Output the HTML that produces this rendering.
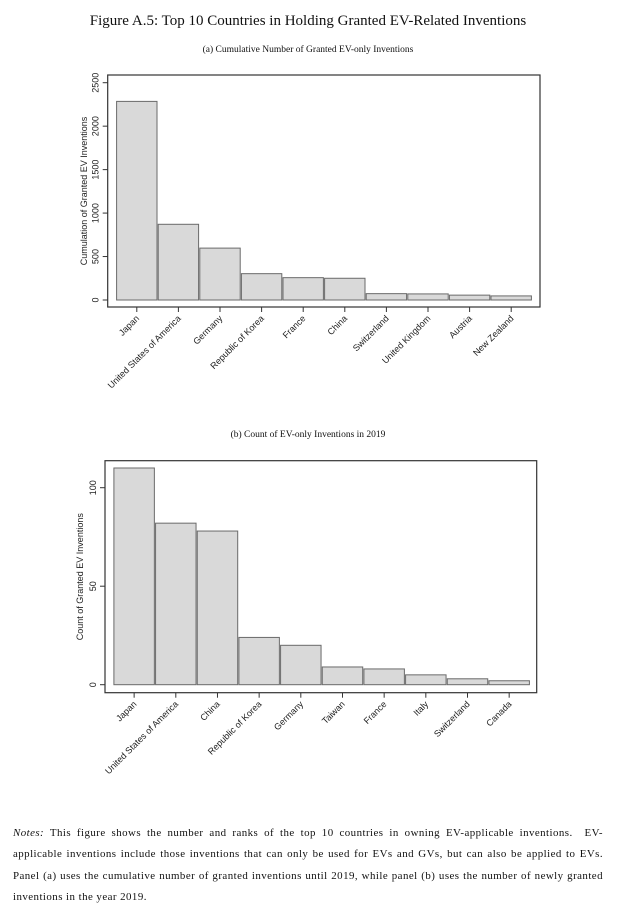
<!DOCTYPE html>
<html><head><meta charset="utf-8"><style>
body{margin:0;background:#fff;width:617px;height:910px;position:relative;overflow:hidden;font-family:"Liberation Serif",serif;}
svg{position:absolute;left:0;top:0}
.notes{position:absolute;left:13px;top:823px;width:590px;font-size:10.9px;line-height:21.3px;color:#111;letter-spacing:0.45px}
.notes div{text-align:justify;text-align-last:justify;white-space:nowrap}
.notes div.last{text-align-last:left}
</style></head><body>
<svg width="617" height="910">
<text x="308" y="25" text-anchor="middle" font-family="Liberation Serif" font-size="15" fill="#111">Figure A.5: Top 10 Countries in Holding Granted EV-Related Inventions</text>
<text x="308" y="52" text-anchor="middle" font-family="Liberation Serif" font-size="9.5" fill="#111">(a) Cumulative Number of Granted EV-only Inventions</text>
<text x="308" y="437" text-anchor="middle" font-family="Liberation Serif" font-size="9.5" fill="#111">(b) Count of EV-only Inventions in 2019</text>
<g id="ca"></g>
<g id="cb"></g>
</svg>
<div class="notes">
<div><i>Notes:</i> This figure shows the number and ranks of the top 10 countries in owning EV-applicable inventions. &nbsp;EV-</div>
<div>applicable inventions include those inventions that can only be used for EVs and GVs, but can also be applied to EVs.</div>
<div>Panel (a) uses the cumulative number of granted inventions until 2019, while panel (b) uses the number of newly granted</div>
<div class="last">inventions in the year 2019.</div>
</div>
<script>
const catsA=["Japan","United States of America","Germany","Republic of Korea","France","China","Switzerland","United Kingdom","Austria","New Zealand"];
const valsA=[2285,871,597,303,257,250,73,70,56,47];
const ticksA=[0,500,1000,1500,2000,2500];
const catsB=["Japan","United States of America","China","Republic of Korea","Germany","Taiwan","France","Italy","Switzerland","Canada"];
const valsB=[110,82,78,24,20,9,8,5,3,2];
const ticksB=[0,50,100];
const NS="http://www.w3.org/2000/svg";
function mk(p,t,a){const e=document.createElementNS(NS,t);for(const k in a)e.setAttribute(k,a[k]);p.appendChild(e);return e;}
function draw(g,cats,vals,ticks,cfg,title,pfx){
  const y=v=>cfg.y0-(v-0)*(cfg.y0-cfg.yMax)/cfg.maxV;
  const bw=(cfg.bx1-cfg.bx0)/cats.length;
  const x=i=>cfg.bx0+i*bw;
  const f=mk(g,"rect",{x:cfg.fx0,y:cfg.fy0,width:cfg.fx1-cfg.fx0,height:cfg.fy1-cfg.fy0,fill:"none",stroke:"#333","stroke-width":1.2});
  
  
  vals.forEach((v,i)=>{
    const r=mk(g,"rect",{x:x(i)+0.6,y:y(v),width:bw-1.2,height:y(0)-y(v),fill:"#d9d9d9",stroke:"#6a6a6a","stroke-width":1});
    
    
    const cx=x(i)+bw/2;
    mk(g,"line",{x1:cx,y1:cfg.fy1,x2:cx,y2:cfg.fy1+5,stroke:"#333","stroke-width":1});
    const t=mk(g,"text",{x:cx+3,y:cfg.fy1+12,"text-anchor":"end","font-family":"Liberation Sans","font-size":9,fill:"#222",transform:`rotate(-45 ${cx+3} ${cfg.fy1+12})`});
    t.textContent=cats[i];
    
    
  });
  ticks.forEach(tv=>{
    const ty=y(tv);
    mk(g,"line",{x1:cfg.fx0-5,y1:ty,x2:cfg.fx0,y2:ty,stroke:"#333","stroke-width":1});
    const t=mk(g,"text",{x:cfg.fx0-9,y:ty,"text-anchor":"middle","font-family":"Liberation Sans","font-size":9,fill:"#222",transform:`rotate(-90 ${cfg.fx0-9} ${ty})`});
    t.textContent=tv;
    
    
  });
  const my=(cfg.fy0+cfg.fy1)/2;
  const at=mk(g,"text",{x:cfg.titleX,y:my,"text-anchor":"middle","font-family":"Liberation Sans","font-size":9,fill:"#222",transform:`rotate(-90 ${cfg.titleX} ${my})`});
  at.textContent=title;
  
  
}
draw(document.getElementById('ca'),catsA,valsA,ticksA,{fx0:107.7,fx1:540,fy0:75,fy1:307,bx0:116,bx1:532,y0:300,yMax:82.7,maxV:2500,titleX:87},"Cumulation of Granted EV Inventions","a-");
draw(document.getElementById('cb'),catsB,valsB,ticksB,{fx0:105,fx1:536.7,fy0:460.7,fy1:692.7,bx0:113.3,bx1:530,y0:684.7,yMax:487.7,maxV:100,titleX:83},"Count of Granted EV Inventions","b-");
</script>
</body></html>
